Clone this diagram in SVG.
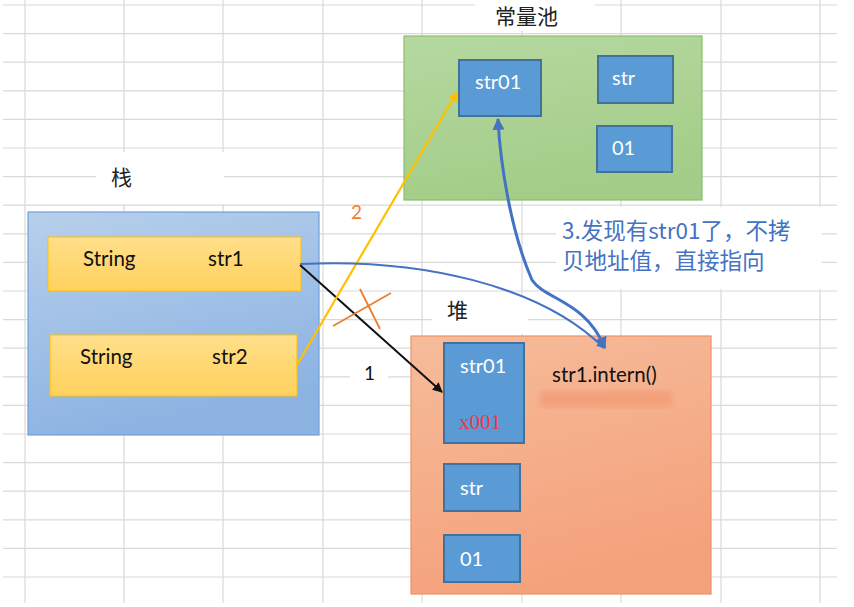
<svg xmlns="http://www.w3.org/2000/svg" width="854" height="607" viewBox="0 0 854 607">
<style>
.grid line{stroke:#d9d9d9;stroke-width:1.2}
.lbl{font-family:"Noto Sans CJK SC","Noto Sans",sans-serif;font-size:21px;fill:#222}
.cell{fill:#5b9bd5;stroke:#41719c;stroke-width:2}
.wt{font-family:Lato,"Liberation Sans",sans-serif;font-size:20px;fill:#fff}
.bt{font-family:Lato,"Liberation Sans",sans-serif;font-size:20.5px;fill:#111}
.row{fill:url(#gy);stroke:#ffc000;stroke-width:1}
.note{font-family:"Noto Sans CJK SC","Noto Sans",sans-serif;font-size:22.5px;fill:#4472c4}
</style>
<defs>
<linearGradient id="gb" x1="0" y1="0" x2="0.3" y2="1"><stop offset="0" stop-color="#b7cfeb"/><stop offset="1" stop-color="#8cb3e2"/></linearGradient>
<linearGradient id="gg" x1="0" y1="0" x2="0.3" y2="1"><stop offset="0" stop-color="#b6d8a0"/><stop offset="1" stop-color="#a3cd88"/></linearGradient>
<linearGradient id="gh" x1="0" y1="0" x2="0.3" y2="1"><stop offset="0" stop-color="#f6bc9a"/><stop offset="1" stop-color="#f4a27c"/></linearGradient>
<linearGradient id="gy" x1="0" y1="0" x2="0" y2="1"><stop offset="0" stop-color="#ffdf8a"/><stop offset="1" stop-color="#ffd15e"/></linearGradient>
<marker id="ab" viewBox="0 0 10 10" refX="9" refY="5" markerWidth="5" markerHeight="5" orient="auto-start-reverse"><path d="M0,0 L10,5 L0,10 z" fill="#111"/></marker>
<marker id="ay" viewBox="0 0 10 10" refX="9" refY="5" markerWidth="4.5" markerHeight="4.5" orient="auto-start-reverse"><path d="M0,0 L10,5 L0,10 z" fill="#ffc000"/></marker>
<marker id="au" viewBox="0 0 10 10" refX="9" refY="5" markerWidth="4" markerHeight="4" orient="auto-start-reverse"><path d="M0,0 L10,5 L0,10 z" fill="#4472c4"/></marker>
<filter id="blur"><feGaussianBlur stdDeviation="3"/></filter>
</defs>
<rect width="854" height="607" fill="#fff"/>
<g class="grid">
<line x1="3" y1="5" x2="837" y2="5"/><line x1="3" y1="33.6" x2="837" y2="33.6"/><line x1="3" y1="62.2" x2="837" y2="62.2"/><line x1="3" y1="90.8" x2="837" y2="90.8"/><line x1="3" y1="119.4" x2="837" y2="119.4"/><line x1="3" y1="148" x2="837" y2="148"/><line x1="3" y1="176.6" x2="837" y2="176.6"/><line x1="3" y1="205.2" x2="837" y2="205.2"/><line x1="3" y1="233.8" x2="837" y2="233.8"/><line x1="3" y1="262.4" x2="837" y2="262.4"/><line x1="3" y1="291" x2="837" y2="291"/><line x1="3" y1="319.6" x2="837" y2="319.6"/><line x1="3" y1="348.2" x2="837" y2="348.2"/><line x1="3" y1="376.8" x2="837" y2="376.8"/><line x1="3" y1="405.4" x2="837" y2="405.4"/><line x1="3" y1="434" x2="837" y2="434"/><line x1="3" y1="462.6" x2="837" y2="462.6"/><line x1="3" y1="491.2" x2="837" y2="491.2"/><line x1="3" y1="519.8" x2="837" y2="519.8"/><line x1="3" y1="548.4" x2="837" y2="548.4"/><line x1="3" y1="577" x2="837" y2="577"/>
<line x1="25" y1="0" x2="25" y2="603"/><line x1="124" y1="0" x2="124" y2="603"/><line x1="223" y1="0" x2="223" y2="603"/><line x1="323" y1="0" x2="323" y2="603"/><line x1="422" y1="0" x2="422" y2="603"/><line x1="522" y1="0" x2="522" y2="603"/><line x1="621" y1="0" x2="621" y2="603"/><line x1="721" y1="0" x2="721" y2="603"/><line x1="820" y1="0" x2="820" y2="603"/>
</g>
<g fill="#fff">
<rect x="475" y="0" width="120" height="31"/>
<rect x="96" y="152" width="128" height="52"/>
<rect x="556" y="207" width="266" height="82"/>
<rect x="432" y="294" width="96" height="40"/>
<rect x="350" y="356" width="38" height="44"/>
</g>
<g id="pool">
<rect x="404" y="36" width="298" height="164" fill="url(#gg)" stroke="#8cbf6a" stroke-width="1.2"/>
<text class="lbl" x="495" y="24" font-size="19.5">常量池</text>
</g>
<g id="pool-str01"><rect class="cell" x="459" y="60" width="82" height="56"/><text class="wt" x="475" y="89">str01</text></g>
<g id="pool-str"><rect class="cell" x="598" y="56" width="75" height="47"/><text class="wt" x="612" y="85">str</text></g>
<g id="pool-01"><rect class="cell" x="597" y="126" width="75" height="46"/><text class="wt" x="612" y="155">01</text></g>
<g id="stack">
<rect x="28" y="212" width="291" height="223" fill="url(#gb)" stroke="#6fa0dc" stroke-width="1.2"/>
<text class="lbl" x="111" y="185">栈</text>
</g>
<g id="stack-str1"><rect class="row" x="48" y="237" width="253" height="54"/><text class="bt" x="83" y="266">String</text><text class="bt" x="208" y="266">str1</text></g>
<g id="stack-str2"><rect class="row" x="50" y="335" width="247" height="61"/><text class="bt" x="80" y="364">String</text><text class="bt" x="212" y="364">str2</text></g>
<g id="heap">
<rect x="411" y="336" width="300" height="258" fill="url(#gh)" stroke="#f09066" stroke-width="1.2"/>
<text class="lbl" x="447" y="318">堆</text>
</g>
<g id="heap-intern">
<rect x="540" y="391" width="132" height="16" fill="#f29a74" opacity="0.75" filter="url(#blur)"/>
<text class="bt" x="552" y="382">str1.intern()</text>
</g>
<g id="heap-str01"><rect class="cell" x="444" y="343" width="80" height="100"/><text class="wt" x="460" y="373">str01</text><text x="459" y="429" font-family="'Liberation Serif',serif" font-size="21" fill="#e8384f">x001</text></g>
<g id="heap-str"><rect class="cell" x="444" y="464" width="76" height="47"/><text class="wt" x="460" y="495">str</text></g>
<g id="heap-01"><rect class="cell" x="444" y="535" width="76" height="47"/><text class="wt" x="460" y="566">01</text></g>
<g id="note"><text class="note" x="562" y="239">3.发现有str01了，不拷</text><text class="note" x="562" y="269">贝地址值，直接指向</text></g>
<g id="connectors" fill="none">
<line x1="300" y1="265" x2="442" y2="392" stroke="#111" stroke-width="2" marker-end="url(#ab)"/>
<text x="364" y="380" font-family="Lato,'Liberation Sans',sans-serif" font-size="19" fill="#111">1</text>
<line x1="297" y1="365" x2="457" y2="92" stroke="#ffc000" stroke-width="2.2" marker-end="url(#ay)"/>
<text x="351" y="219" font-family="Lato,'Liberation Sans',sans-serif" font-size="19" fill="#ed7d31">2</text>
<line x1="333" y1="326" x2="391" y2="293" stroke="#ed7d31" stroke-width="1.8"/>
<line x1="360" y1="289" x2="380" y2="329" stroke="#ed7d31" stroke-width="1.8"/>
<path d="M300,264 C420,258 540,285 604,348" stroke="#4472c4" stroke-width="2" marker-end="url(#au)"/>
<path d="M498,119 C500,160 510,230 532,280 C545,300 585,300 605,348" stroke="#4472c4" stroke-width="3" marker-start="url(#au)" marker-end="url(#au)"/>
</g>
</svg>
